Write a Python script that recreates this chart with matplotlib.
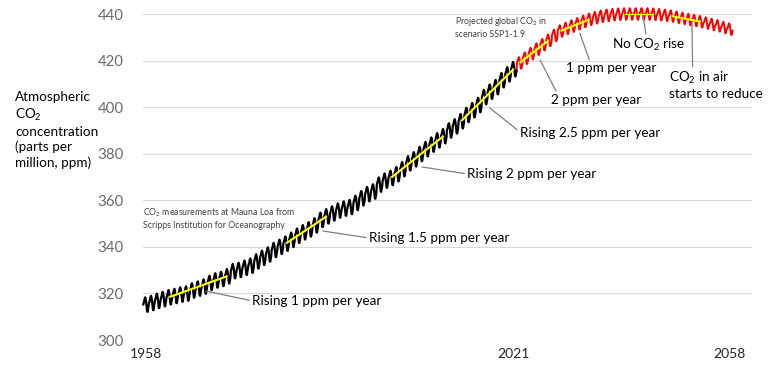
import numpy as np
import matplotlib
matplotlib.use('Agg')
import matplotlib.pyplot as plt

plt.rcParams['font.family'] = ['Lato', 'DejaVu Sans']
plt.rcParams['mathtext.default'] = 'regular'

# Mauna Loa annual means (ppm)
obs_years = np.arange(1958, 2022)
obs_mean = [315.3, 315.98, 316.91, 317.64, 318.45, 318.99, 319.62, 320.04, 321.37, 322.18,
            323.05, 324.62, 325.68, 326.32, 327.46, 329.68, 330.19, 331.13, 332.03, 333.84,
            335.41, 336.84, 338.76, 340.12, 341.48, 343.15, 344.87, 346.35, 347.61, 349.31,
            351.69, 353.20, 354.45, 355.70, 356.54, 357.21, 358.96, 360.97, 362.74, 363.88,
            366.84, 368.54, 369.71, 371.32, 373.45, 375.98, 377.70, 379.98, 382.09, 384.02,
            385.83, 387.64, 390.10, 391.85, 394.06, 396.74, 398.81, 401.01, 404.41, 406.76,
            408.72, 411.65, 414.21, 416.41]

# projected global CO2, scenario SSP1-1.9 (annual means, ppm)
proj_years = np.arange(2022, 2059)
proj_mean = [419.0, 421.0, 423.0, 424.9, 426.8, 428.7, 430.8, 432.7, 433.8, 434.8,
             435.8, 436.8, 437.7, 438.4, 439.0, 439.4, 439.7, 439.9, 440.0, 440.0,
             440.0, 440.0, 440.0, 439.9, 439.7, 439.4, 439.1, 438.6, 438.1, 437.6,
             437.2, 436.7, 436.1, 435.5, 434.9, 434.2, 433.5]

# seasonal cycle, Jan..Dec (ppm offset from annual mean)
obs_season = [0.0, 0.7, 1.4, 2.5, 3.0, 2.3, 0.8, -1.4, -3.1, -3.2, -1.9, -0.8]
proj_season = [0.2, 0.7, 1.3, 2.1, 2.5, 1.9, 0.6, -1.1, -2.4, -2.5, -1.5, -0.6]

# trend segments highlighted in yellow
trend_start = [1962, 1982, 2000, 2012, 2022, 2029, 2040, 2048]
trend_end = [1972, 1989, 2009, 2021, 2027, 2034, 2045, 2053]

x_ticks = [1958, 2021, 2058]


def monthly(years, means, season):
    x = (np.asarray(years)[:, None] + (np.arange(12) + 0.5) / 12).ravel()
    y = (np.asarray(means)[:, None] + np.asarray(season)[None, :]).ravel()
    return x, y


all_years = np.concatenate([obs_years, proj_years])
all_mean = np.concatenate([obs_mean, proj_mean])

fig = plt.figure(figsize=(7.68, 3.66), dpi=100)
ax = fig.add_axes([143 / 768, 1 - 340 / 366, 609 / 768, 326 / 366])

ox, oy = monthly(obs_years, obs_mean, obs_season)
px, py = monthly(proj_years, proj_mean, proj_season)
px = np.concatenate([ox[-1:], px])
py = np.concatenate([oy[-1:], py])

ax.plot(px, py, color='#ff0000', lw=1.4, clip_on=False, zorder=3)
ax.plot(ox, oy, color='black', lw=1.6, clip_on=False, zorder=3)

for s, e in zip(trend_start, trend_end):
    ys = all_mean[all_years == s][0]
    ye = all_mean[all_years == e][0]
    ax.plot([s + 0.5, e + 0.5], [ys, ye], color='#ffff00', lw=1.5, zorder=4,
            solid_capstyle='butt')

ax.set_ylim(300, 440)
ax.set_xlim(1958, 1958 + 609 / 5.84)
ax.set_yticks(np.arange(300, 441, 20))
ax.set_xticks([t + 0.5 for t in x_ticks])
ax.set_xticklabels([str(t) for t in x_ticks])
ax.grid(axis='y', color='#d9d9d9', lw=0.9)
ax.set_axisbelow(True)
for sp in ax.spines.values():
    sp.set_visible(False)
ax.tick_params(axis='both', length=0)
ax.tick_params(axis='y', labelsize=10.8, labelcolor='#6b6b6b', pad=14)
ax.tick_params(axis='x', labelsize=10, labelcolor='#262626', pad=6)

fig.text(15 / 768, 1 - 130 / 366,
         'Atmospheric\nCO$_2$\nconcentration\n(parts per\nmillion, ppm)',
         ha='left', va='center', fontsize=9.7, linespacing=1.3)

lead = dict(arrowstyle='-', color='#7f7f7f', lw=0.9, shrinkA=0, shrinkB=0)


def note(text, xy, xytext, relpos, **kw):
    a = dict(lead, relpos=relpos)
    ax.annotate(text, xy=xy, xytext=xytext, arrowprops=a, fontsize=9.7,
                ha='left', va='center', zorder=5, **kw)


note('Rising 1 ppm per year', (1968.8, 321.0), (1976.7, 316.8), (0, 0.5))
note('Rising 1.5 ppm per year', (1988.8, 346.8), (1996.7, 343.8), (0, 0.5))
note('Rising 2 ppm per year', (2005.8, 374.3), (2013.5, 371.3), (0, 0.5))
note('Rising 2.5 ppm per year', (2017.4, 399.6), (2022.5, 388.9), (0, 0.6))
note('2 ppm per year', (2026.0, 420.2), (2027.9, 403.1), (0.07, 1))
note('1 ppm per year', (2032.8, 431.8), (2030.4, 416.6), (0.27, 1))
note('No CO$_2$ rise', (2043.6, 439.6), (2038.3, 426.7), (0.47, 1))
note('CO$_2$ in air\nstarts to reduce', (2052.0, 436.1), (2048.1, 409.7), (0.25, 1),
     linespacing=1.2)

ax.text(1958.0, 352.4, 'CO$_2$ measurements at Mauna Loa from\nScripps Institution for Oceanography',
        fontsize=6.3, color='#404040', ha='left', va='center', linespacing=1.25)
ax.text(2011.4, 434.4, 'Projected global CO$_2$ in\nscenario SSP1-1.9',
        fontsize=6.3, color='#404040', ha='left', va='center', linespacing=1.25)

fig.savefig('out.png', dpi=100)
